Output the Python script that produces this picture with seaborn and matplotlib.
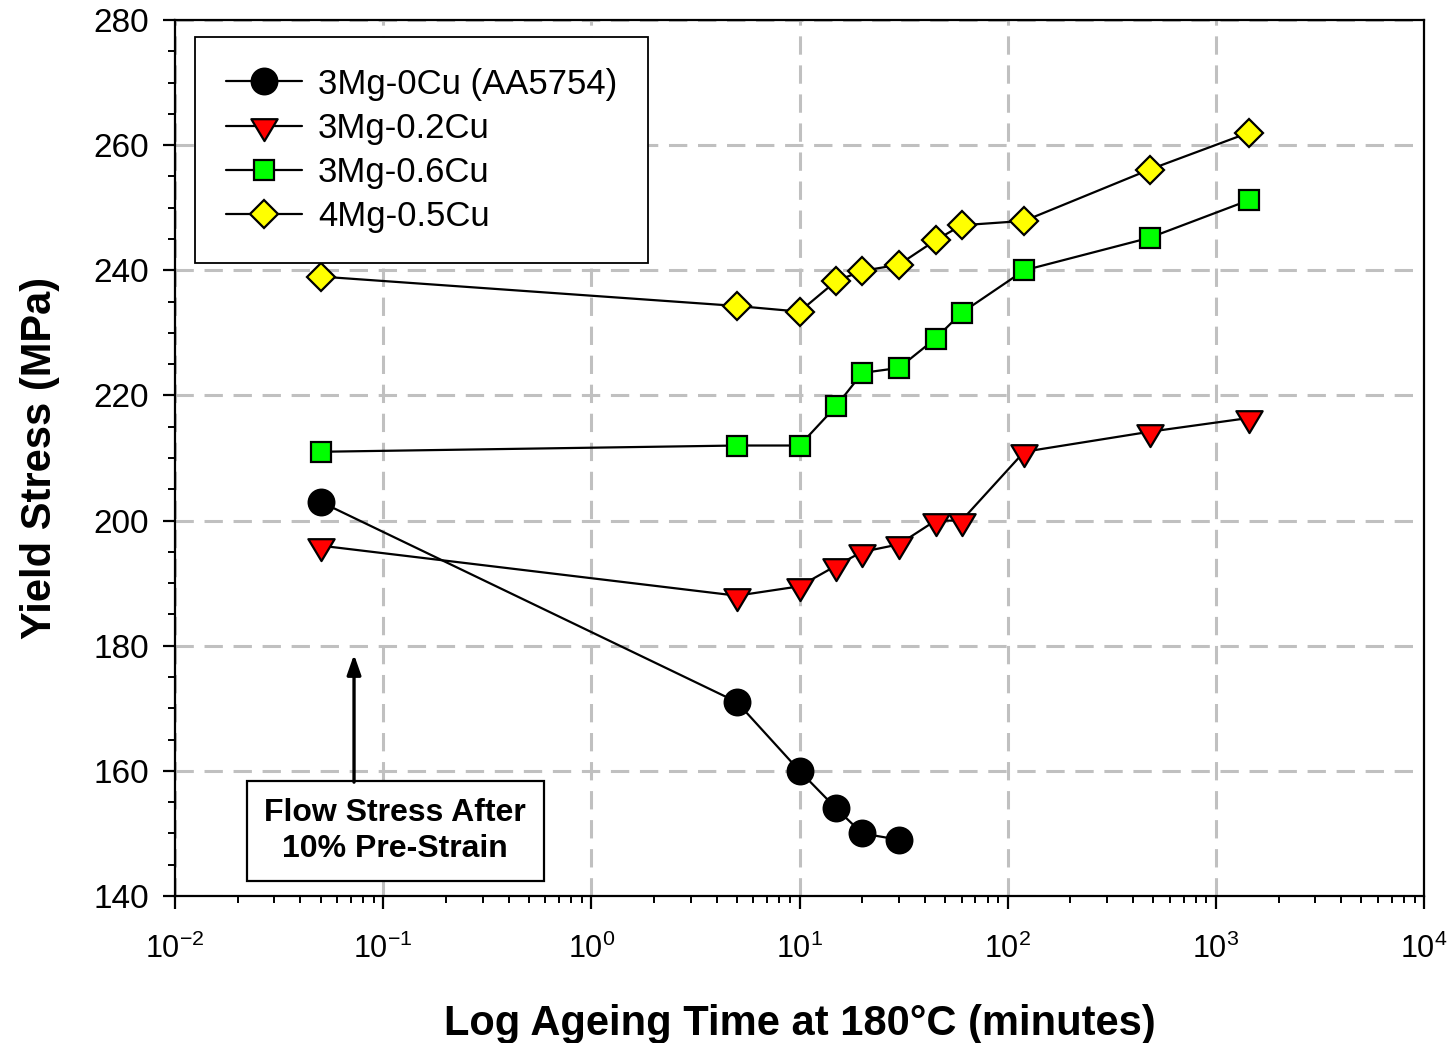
import numpy as np
import pandas as pd
import matplotlib
matplotlib.use("Agg")
import matplotlib.pyplot as plt
from matplotlib.path import Path
from matplotlib.ticker import (FixedLocator, LogFormatterSciNotation,
                               MultipleLocator, NullFormatter)
import seaborn as sns

# Ageing times (minutes) at 180 °C
time_0cu = [0.05, 5, 10, 15, 20, 30]
time_cu = [0.05, 5, 10, 15, 20, 30, 45, 60, 120, 480, 1440]

# Yield stress (MPa)
ys_3mg_0cu = [203, 171, 160, 154, 150, 149]
ys_3mg_02cu = [196, 188, 189.5, 192.8, 195, 196.2, 200, 200, 211, 214.2, 216.4]
ys_3mg_06cu = [211, 212, 212, 218.3, 223.6, 224.4, 229.1, 233.2, 240, 245.2, 251.2]
ys_4mg_05cu = [239, 234.3, 233.4, 238.3, 239.9, 240.9, 244.8, 247.2, 247.9, 256.1, 262]

labels = ["3Mg-0Cu (AA5754)", "3Mg-0.2Cu", "3Mg-0.6Cu", "4Mg-0.5Cu"]
y_ticks = [140, 160, 180, 200, 220, 240, 260, 280]
x_ticks = [1e-2, 1e-1, 1e0, 1e1, 1e2, 1e3, 1e4]

sns.set_theme(style="ticks")
plt.rcParams["font.family"] = ["Liberation Sans", "DejaVu Sans"]
plt.rcParams["mathtext.fontset"] = "custom"
plt.rcParams["mathtext.rm"] = "Liberation Sans"
plt.rcParams["mathtext.it"] = "Liberation Sans:italic"
plt.rcParams["mathtext.bf"] = "Liberation Sans:bold"
plt.rcParams["axes.unicode_minus"] = False
for key in ["text.color", "axes.labelcolor", "xtick.color", "ytick.color",
            "axes.edgecolor"]:
    plt.rcParams[key] = "black"

# down-pointing triangle centred on its centroid
tri_down = Path([(-0.9, 0.5), (0.9, 0.5), (0.0, -1.0), (-0.9, 0.5)],
                [Path.MOVETO, Path.LINETO, Path.LINETO, Path.CLOSEPOLY])

series = [
    (time_0cu, ys_3mg_0cu, "o", "black", 18.5),
    (time_cu, ys_3mg_02cu, tri_down, "#ff0000", 21),
    (time_cu, ys_3mg_06cu, "s", "#00ff00", 14.5),
    (time_cu, ys_4mg_05cu, "D", "#ffff00", 14.5),
]

fig = plt.figure(figsize=(14.54, 10.43), dpi=100)
ax = fig.add_axes([0.1204, 0.1409, 0.859, 0.8399])

for (t, ys, mk, fc, ms), lab in zip(series, labels):
    df = pd.DataFrame({"time": t, "stress": ys})
    sns.lineplot(data=df, x="time", y="stress", ax=ax, label=lab,
                 color="black", linewidth=1.6, marker=mk, markersize=ms,
                 markerfacecolor=fc, markeredgecolor="black",
                 markeredgewidth=1.6, sort=False, estimator=None, zorder=3)

ax.set_xscale("log")
ax.set_xlim(1e-2, 1e4)
ax.set_ylim(140, 280)
ax.set_yticks(y_ticks)
ax.yaxis.set_minor_locator(MultipleLocator(5))
ax.xaxis.set_major_locator(FixedLocator(x_ticks))
ax.xaxis.set_major_formatter(LogFormatterSciNotation())
minor_x = [m * 10.0 ** e for e in range(-2, 4) for m in range(2, 10)]
ax.xaxis.set_minor_locator(FixedLocator(minor_x))
ax.xaxis.set_minor_formatter(NullFormatter())

ax.grid(True, which="major", color="#c0c0c0", linestyle=(0, (6, 3.5)),
        linewidth=2.2, zorder=0)
ax.set_axisbelow(True)

for sp in ax.spines.values():
    sp.set_visible(True)
    sp.set_color("black")
    sp.set_linewidth(1.6)

ax.tick_params(axis="both", which="major", direction="out", length=9,
               width=1.6, colors="black")
ax.tick_params(axis="both", which="minor", direction="out", length=5,
               width=1.4, colors="black")
ax.tick_params(axis="y", which="major", labelsize=24, pad=10)
ax.tick_params(axis="x", which="major", labelsize=22, pad=18)

ax.set_xlabel("Log Ageing Time at 180°C (minutes)", fontsize=30,
              fontweight="bold", labelpad=28)
ax.set_ylabel("Yield Stress (MPa)", fontsize=30, fontweight="bold", labelpad=24)

leg = ax.legend(loc="upper left", bbox_to_anchor=(0.016, 0.9806), fontsize=25,
                frameon=True, fancybox=False, edgecolor="black", framealpha=1,
                handlelength=2.2, handletextpad=0.46, borderpad=0.88,
                labelspacing=0.32, borderaxespad=0)
leg.get_frame().set_linewidth(1.3)

# annotation box and arrow
ax.text(0.114, 150.4, "Flow Stress After\n10% Pre-Strain", fontsize=23,
        fontweight="bold", ha="center", va="center", linespacing=1.25,
        bbox=dict(boxstyle="square,pad=0.55", facecolor="white",
                  edgecolor="black", linewidth=1.6), zorder=4)
ax.annotate("", xy=(0.0724, 178.6), xytext=(0.0724, 158.2),
            arrowprops=dict(arrowstyle="-|>,head_length=1.0,head_width=0.35",
                            color="black", linewidth=2.4, shrinkA=0, shrinkB=0),
            zorder=4)

fig.savefig("out.png", dpi=100)
